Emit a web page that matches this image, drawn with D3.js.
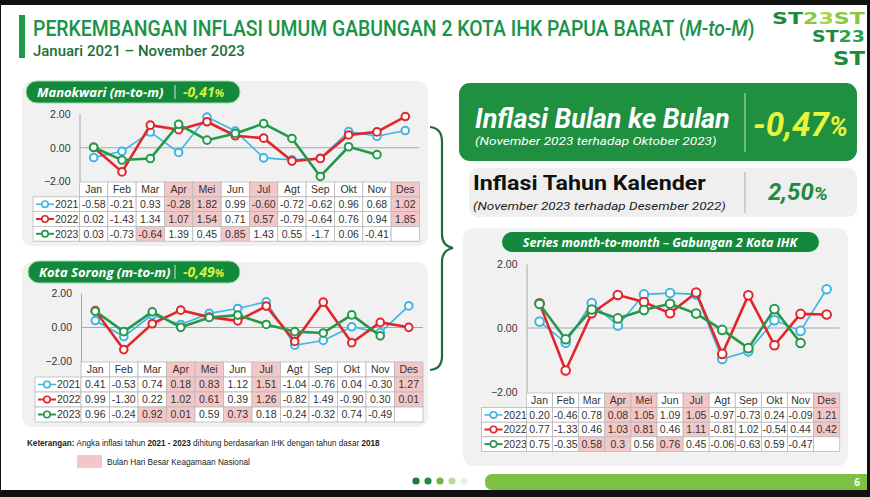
<!DOCTYPE html>
<html>
<head>
<meta charset="utf-8">
<script src="https://cdn.jsdelivr.net/npm/d3@7"></script>
<style>
  body { margin:0; background:#000; }
  svg { display:block; }
  .narrow { font-family:"Liberation Sans",Arial,sans-serif; }
  .rb { font-family:Roboto,"Liberation Sans",sans-serif; }
  .os { font-family:"Open Sans","Noto Sans",sans-serif; }
</style>
</head>
<body>
<svg id="slide" width="870" height="497"></svg>
<script>
var months = ["Jan","Feb","Mar","Apr","Mei","Jun","Jul","Agt","Sep","Okt","Nov","Des"];
var years = ["2021","2022","2023"];

var mkw2021 = ["-0.58","-0.21","0.93","-0.28","1.82","0.99","-0.60","-0.72","-0.62","0.96","0.68","1.02"];
var mkw2022 = ["0.02","-1.43","1.34","1.07","1.54","0.71","0.57","-0.79","-0.64","0.76","0.94","1.85"];
var mkw2023 = ["0.03","-0.73","-0.64","1.39","0.45","0.85","1.43","0.55","-1.7","0.06","-0.41"];

var sor2021 = ["0.41","-0.53","0.74","0.18","0.83","1.12","1.51","-1.04","-0.76","0.04","-0.30","1.27"];
var sor2022 = ["0.99","-1.30","0.22","1.02","0.61","0.39","1.26","-0.82","1.49","-0.90","0.30","0.01"];
var sor2023 = ["0.96","-0.24","0.92","0.01","0.59","0.73","0.18","-0.24","-0.32","0.74","-0.49"];

var gab2021 = ["0.20","-0.46","0.78","0.08","1.05","1.09","1.05","-0.97","-0.73","0.24","-0.09","1.21"];
var gab2022 = ["0.77","-1.33","0.46","1.03","0.81","0.46","1.11","-0.81","1.02","-0.54","0.44","0.42"];
var gab2023 = ["0.75","-0.35","0.58","0.3","0.56","0.76","0.45","-0.06","-0.63","0.59","-0.47"];

// months of national religious holidays (pink cells)
var pinkHeader = ["Apr","Mei","Jul","Des"];
var pinkMkw = [["Apr","Mei","Jul","Des"],["Apr","Mei","Jul","Des"],["Mar","Jun"]];
var pinkSor = [["Apr","Mei","Jul","Des"],["Apr","Mei","Jul","Des"],["Mar","Apr","Jun"]];
var pinkGab = [["Apr","Mei","Jul","Des"],["Apr","Mei","Jul","Des"],["Mar","Apr","Jun"]];

var yTicks = [-2, 0, 2];
var colors = {"2021":"#3fb4e3", "2022":"#e2242b", "2023":"#24994a"};
var pink = "#f3c6c7";
var dkGreen = "#138a3b";

var svg = d3.select("#slide");

// squeeze a text horizontally so it spans width w (keeps its height)
function fitX(sel, x, y, w) {
  var n = sel.node().getComputedTextLength();
  sel.attr("transform","translate(" + x + "," + y + ") scale(" + (w/n) + ",1)");
  return sel;
}

// slide background with dark frame
svg.append("rect").attr("width",870).attr("height",497).attr("fill","#111");
svg.append("rect").attr("x",1).attr("y",5).attr("width",866).attr("height",485).attr("fill","#fff");

// title
svg.append("rect").attr("x",19).attr("y",15).attr("width",6).attr("height",43).attr("fill","#1c9a47");
var title = svg.append("text").attr("class","rb")
  .attr("font-size",22).attr("font-weight",500).attr("fill","#1a9247");
title.append("tspan").text("PERKEMBANGAN INFLASI UMUM GABUNGAN 2 KOTA IHK PAPUA BARAT (");
title.append("tspan").attr("font-style","italic").text("M-to-M");
title.append("tspan").text(")");
fitX(title, 33, 36, 722);
var sub = svg.append("text").attr("class","rb")
  .attr("font-size",14.5).attr("font-weight",500).attr("fill","#1d6e3a")
  .text("Januari 2021 \u2013 November 2023");
fitX(sub, 33, 55.5, 212);

// logo (ST2023 pattern as text)
var logoRows = [
  {y:24, x:772, w:93, fs:15, parts:[["ST","#1a8a3e"],["2","#8dc63f"],["3","#a8d04c"],["ST","#8dc63f"]]},
  {y:42, x:812, w:53, fs:15, parts:[["ST","#1e8a3e"],["23","#2aa24b"]]},
  {y:65, x:833, w:32, fs:20, parts:[["ST","#1e8a3e"]]}
];
logoRows.forEach(function(r){
  var t = svg.append("text")
    .attr("font-family","DejaVu Sans").attr("font-weight","bold").attr("font-size", r.fs);
  r.parts.forEach(function(p){ t.append("tspan").attr("fill",p[1]).text(p[0]); });
  fitX(t, r.x, r.y, r.w);
});

function drawPanel(cfg) {
  var g = svg.append("g");
  // panel background
  g.append("rect").attr("x",cfg.bx).attr("y",cfg.by).attr("width",cfg.bw).attr("height",cfg.bh)
    .attr("rx",10).attr("fill","#f1f1f1");

  var x = d3.scaleBand().domain(months).range([cfg.x0, cfg.x0 + 12*cfg.colW]).padding(0);
  var y = d3.scaleLinear().domain([-2, 2]).range([cfg.yBot, cfg.yTop]);
  var cx = function(m){ return x(m) + x.bandwidth()/2; };

  // table
  var t = g.append("g").attr("class","narrow").attr("font-size",cfg.fs);
  months.forEach(function(m){
    t.append("rect").attr("x",x(m)).attr("y",cfg.tY).attr("width",x.bandwidth()).attr("height",cfg.rowH)
      .attr("fill", pinkHeader.indexOf(m) >= 0 ? pink : "#fff").attr("stroke","#b9b9b9").attr("stroke-width",0.8);
    t.append("text").attr("x",cx(m)).attr("y",cfg.tY + cfg.rowH/2).attr("dy","0.36em")
      .attr("text-anchor","middle").attr("fill","#333").text(m);
  });
  cfg.series.forEach(function(vals, i){
    var ry = cfg.tY + cfg.rowH*(i+1);
    t.append("rect").attr("x",cfg.lx).attr("y",ry).attr("width",cfg.x0-cfg.lx).attr("height",cfg.rowH)
      .attr("fill","#fff").attr("stroke","#b9b9b9").attr("stroke-width",0.8);
    var c = colors[years[i]];
    t.append("line").attr("x1",cfg.lx+3).attr("x2",cfg.lx+21).attr("y1",ry+cfg.rowH/2).attr("y2",ry+cfg.rowH/2)
      .attr("stroke",c).attr("stroke-width", i==0 ? 1.5 : 2);
    t.append("circle").attr("cx",cfg.lx+12).attr("cy",ry+cfg.rowH/2).attr("r",3.2)
      .attr("fill","#fff").attr("stroke",c).attr("stroke-width",1.6);
    t.append("text").attr("x",cfg.lx+22).attr("y",ry+cfg.rowH/2).attr("dy","0.36em")
      .attr("fill","#333").text(years[i]);
    months.forEach(function(m, j){
      t.append("rect").attr("x",x(m)).attr("y",ry).attr("width",x.bandwidth()).attr("height",cfg.rowH)
        .attr("fill", cfg.pink[i].indexOf(m) >= 0 ? pink : "#fff")
        .attr("stroke","#b9b9b9").attr("stroke-width",0.8);
      if (vals[j] !== undefined)
        t.append("text").attr("x",cx(m)).attr("y",ry+cfg.rowH/2).attr("dy","0.36em")
          .attr("text-anchor","middle").attr("fill","#333").text(vals[j]);
    });
  });

  // zero line + axis
  g.append("line").attr("x1",cfg.x0).attr("x2",cfg.x0 + 12*cfg.colW).attr("y1",y(0)).attr("y2",y(0))
    .attr("stroke","#a8a8a8").attr("stroke-width",1.2);
  var ax = g.append("g").attr("class","narrow").attr("transform","translate(" + cfg.x0 + ",0)")
    .call(d3.axisLeft(y).tickValues(yTicks).tickFormat(d3.format(".2f")).tickSize(0).tickPadding(cfg.tickPad));
  ax.select(".domain").attr("stroke","#a8a8a8");
  ax.selectAll("text").attr("font-size",cfg.fs).attr("fill","#333").attr("font-family",null);

  // lines and markers
  var line = d3.line().x(function(d){ return cx(d.m); }).y(function(d){ return y(d.v); });
  cfg.series.forEach(function(vals, i){
    var pts = vals.map(function(v, j){ return {m: months[j], v: +v}; });
    g.append("path").datum(pts).attr("d",line).attr("fill","none")
      .attr("stroke",colors[years[i]]).attr("stroke-width", i==0 ? 1.6 : 2.6).attr("stroke-linejoin","round");
    g.selectAll(null).data(pts).enter().append("circle")
      .attr("cx",function(d){ return cx(d.m); }).attr("cy",function(d){ return y(d.v); })
      .attr("r",cfg.r).attr("fill","#fff").attr("stroke",colors[years[i]]).attr("stroke-width",2);
  });
}

function pill(x0, y0, w, label, value, sepX) {
  svg.append("rect").attr("x",x0).attr("y",y0).attr("width",w).attr("height",22).attr("rx",11)
    .attr("fill",dkGreen).attr("stroke","#9fd8a8").attr("stroke-width",1);
  svg.append("text").attr("class","os").attr("x",x0+11).attr("y",y0+16)
    .attr("font-size",13).attr("font-weight","bold").attr("font-style","italic").attr("fill","#fff").text(label);
  svg.append("line").attr("x1",sepX).attr("x2",sepX).attr("y1",y0+4).attr("y2",y0+18)
    .attr("stroke","#cfe9d3").attr("stroke-width",1);
  var v = svg.append("text").attr("class","os").attr("x",sepX+8).attr("y",y0+16)
    .attr("font-size",14).attr("font-weight","bold").attr("font-style","italic").attr("fill","#d6f23c");
  v.append("tspan").text(value);
  v.append("tspan").attr("font-size",11).text("%");
}

drawPanel({bx:22, by:81, bw:406, bh:165, x0:79.5, colW:28.33, yTop:114, yBot:181.5,
  tY:182, rowH:14.8, lx:33, fs:10.5, tickPad:9, r:3.8, series:[mkw2021, mkw2022, mkw2023], pink:pinkMkw});
pill(26, 81, 214, "Manokwari (m-to-m)", "-0,41", 175);

drawPanel({bx:22, by:262, bw:406, bh:165, x0:81, colW:28.5, yTop:293.5, yBot:361.5,
  tY:362, rowH:15, lx:35, fs:10.5, tickPad:9, r:3.8, series:[sor2021, sor2022, sor2023], pink:pinkSor});
pill(28, 261, 212, "Kota Sorong (m-to-m)", "-0,49", 175);

// brace
svg.append("path")
  .attr("d","M430,127 Q442,128 442,142 L442,234 Q442,246 453,248 Q442,250 442,262 L442,356 Q442,369 430,370")
  .attr("fill","none").attr("stroke","#1f6b3c").attr("stroke-width",2.2);

// summary boxes
svg.append("rect").attr("x",459).attr("y",83).attr("width",398).attr("height",78).attr("rx",11).attr("fill","#1f9040");
var big1 = svg.append("text").attr("class","rb").attr("font-size",27)
  .attr("font-weight","bold").attr("font-style","italic").attr("fill","#fff").text("Inflasi Bulan ke Bulan");
fitX(big1, 475, 127.5, 255);
var sm1 = svg.append("text").attr("class","rb").attr("font-size",11.5)
  .attr("font-style","italic").attr("fill","#fff").text("(November 2023 terhadap Oktober 2023)");
fitX(sm1, 475, 145, 242);
svg.append("line").attr("x1",745).attr("x2",745).attr("y1",93).attr("y2",152).attr("stroke","#bfe3c6").attr("stroke-width",1);
var mtm = svg.append("text").attr("class","rb")
  .attr("font-size",34).attr("font-weight","bold").attr("font-style","italic").attr("fill","#e9f53b");
mtm.append("tspan").text("-0,47");
mtm.append("tspan").attr("font-size",27).text("%");
fitX(mtm, 753, 136, 95);

svg.append("rect").attr("x",469).attr("y",168).attr("width",388).attr("height",49).attr("rx",9).attr("fill","#efefef");
var big2 = svg.append("text").attr("class","rb").attr("font-size",21)
  .attr("font-weight","bold").attr("fill","#111").text("Inflasi Tahun Kalender");
fitX(big2, 473, 190, 233);
var sm2 = svg.append("text").attr("class","rb").attr("font-size",11.5)
  .attr("font-style","italic").attr("fill","#222").text("(November 2023 terhadap Desember 2022)");
fitX(sm2, 473, 209.5, 253);
svg.append("line").attr("x1",745).attr("x2",745).attr("y1",172).attr("y2",213).attr("stroke","#aaa").attr("stroke-width",1);
var ytd = svg.append("text").attr("class","rb")
  .attr("font-size",23).attr("font-weight","bold").attr("font-style","italic").attr("fill","#1f8a40");
ytd.append("tspan").text("2,50");
ytd.append("tspan").attr("font-size",19).text("%");
fitX(ytd, 768, 200, 60);

// combined chart
drawPanel({bx:463, by:228, bw:385, bh:238, x0:526.5, colW:26.1, yTop:264, yBot:392,
  tY:393, rowH:14.6, lx:481.5, fs:10.5, tickPad:9, r:4.3, series:[gab2021, gab2022, gab2023], pink:pinkGab});
svg.append("rect").attr("x",502).attr("y",232).attr("width",317).attr("height",20).attr("rx",10).attr("fill",dkGreen);
svg.append("text").attr("class","os").attr("x",660).attr("y",246.5).attr("text-anchor","middle")
  .attr("font-size",12.5).attr("font-weight","bold").attr("font-style","italic").attr("fill","#fff")
  .text("Series month-to-month \u2013 Gabungan 2 Kota IHK");

// notes
var note = svg.append("text").attr("class","narrow").attr("font-size",9.5).attr("fill","#222");
note.append("tspan").attr("font-weight","bold").text("Keterangan: ");
note.append("tspan").text(" Angka inflasi tahun ");
note.append("tspan").attr("font-weight","bold").text("2021 - 2023");
note.append("tspan").text(" dihitung berdasarkan IHK dengan tahun dasar ");
note.append("tspan").attr("font-weight","bold").text("2018");
fitX(note, 27, 446, 353);
svg.append("rect").attr("x",77).attr("y",455).attr("width",25).attr("height",13).attr("fill",pink);
var note2 = svg.append("text").attr("class","narrow").attr("font-size",9.5).attr("fill","#222")
  .text("Bulan Hari Besar Keagamaan Nasional");
fitX(note2, 107, 465, 143);

// footer
var dotCols = ["#1a7a3a","#1f8a40","#6cb842","#b9dc9a","#e6f2dc"];
dotCols.forEach(function(c, i){
  svg.append("circle").attr("cx",416 + i*12).attr("cy",481).attr("r",3.6).attr("fill",c);
});
svg.append("path").attr("d","M493,474 L867,474 L867,490 L493,490 Q485,490 485,482 Q485,474 493,474 Z").attr("fill","#7cc142");
svg.append("text").attr("class","os").attr("x",860).attr("y",486).attr("text-anchor","end")
  .attr("font-size",10).attr("font-weight","bold").attr("fill","#fff").text("6");
</script>
</body>
</html>
